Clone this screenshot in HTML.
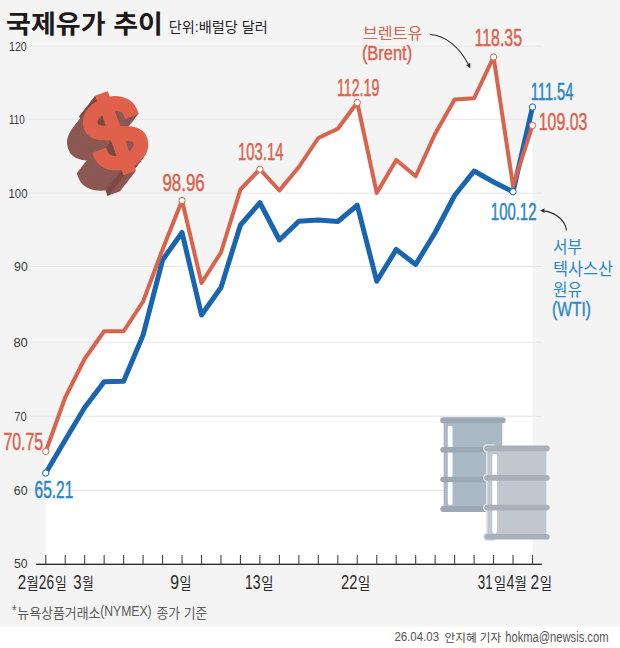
<!DOCTYPE html>
<html lang="ko"><head><meta charset="utf-8"><title>국제유가 추이</title>
<style>html,body{margin:0;padding:0;background:#fff}body{width:620px;height:648px;overflow:hidden;font-family:"Liberation Sans","Noto Sans CJK KR",sans-serif}svg{display:block}text{font-family:"Liberation Sans","Noto Sans CJK KR",sans-serif}</style></head><body>
<svg width="620" height="648" viewBox="0 0 620 648">
<rect x="0" y="0" width="620" height="626.3" fill="#f4f4f4"/>
<polygon fill="#fff" points="45.75,564.25 45.75,451.5 65.22,397.5 84.69,358.75 104.16,331.25 123.63,331.25 143.1,301.5 162.57,249.5 182.04,200.5 201.51,283 220.98,252.5 240.45,189.5 259.92,169.25 279.39,190.5 298.86,167 318.33,138 337.8,128.75 357.27,102.5 376.74,193 396.21,160 415.68,176.25 435.15,133.75 454.62,99.5 474.09,98.25 493.56,57 513.03,186 532.5,125.5 532.6,125.5 532.6,564.25"/>
<rect x="29" y="45.7" width="513" height="1" fill="#e7e7e7"/>
<rect x="29" y="118.8" width="513" height="1" fill="#e7e7e7"/>
<rect x="29" y="192.6" width="513" height="1" fill="#e7e7e7"/>
<rect x="29" y="266.0" width="513" height="1" fill="#e7e7e7"/>
<rect x="29" y="341.7" width="513" height="1" fill="#e7e7e7"/>
<rect x="29" y="415.8" width="513" height="1" fill="#e7e7e7"/>
<rect x="29" y="490.0" width="513" height="1" fill="#e7e7e7"/>
<text transform="translate(8.99,50.97) scale(0.8136,1)" font-size="13.14" font-weight="normal" fill="#3a3a3a">120</text>
<text transform="translate(9.05,124.07) scale(0.7499,1)" font-size="13.14" font-weight="normal" fill="#3a3a3a">110</text>
<text transform="translate(8.54,197.87) scale(0.8626,1)" font-size="13.14" font-weight="normal" fill="#3a3a3a">100</text>
<text transform="translate(14.02,271.27) scale(0.9420,1)" font-size="13.14" font-weight="normal" fill="#3a3a3a">90</text>
<text transform="translate(13.44,346.97) scale(0.9832,1)" font-size="13.14" font-weight="normal" fill="#3a3a3a">80</text>
<text transform="translate(14.32,421.07) scale(0.8567,1)" font-size="13.14" font-weight="normal" fill="#3a3a3a">70</text>
<text transform="translate(13.87,495.27) scale(0.9456,1)" font-size="13.14" font-weight="normal" fill="#3a3a3a">60</text>
<text transform="translate(14.01,567.97) scale(0.9358,1)" font-size="13.14" font-weight="normal" fill="#3a3a3a">50</text>
<g>
<rect x="443.6" y="420.5" width="58.69999999999999" height="88.10000000000002" fill="#a9b9c5"/><rect x="447.8" y="425.7" width="4.800000000000011" height="79.69999999999999" rx="2.4000000000000057" fill="#fff"/><rect x="440.3" y="417.3" width="65.29999999999998" height="5.699999999999989" rx="2.8499999999999943" fill="#9ca9b4"/><rect x="440.3" y="447" width="65.29999999999998" height="5.600000000000023" rx="2.8000000000000114" fill="#9ca9b4"/><rect x="440.3" y="476.7" width="65.29999999999998" height="5.600000000000023" rx="2.8000000000000114" fill="#9ca9b4"/><rect x="440.3" y="506" width="65.29999999999998" height="6" rx="3.0" fill="#9ca9b4"/>
<rect x="486.09999999999997" y="448.8" width="6" height="86.99999999999994" fill="#dfe3e7"/><rect x="483.0" y="444.20000000000005" width="14" height="8.399999999999967" rx="4.199999999999983" fill="#dfe3e7"/><rect x="483.0" y="473.6" width="14" height="8.49999999999999" rx="4.249999999999995" fill="#dfe3e7"/><rect x="483.0" y="503.40000000000003" width="14" height="8.399999999999967" rx="4.199999999999983" fill="#dfe3e7"/><rect x="483.0" y="532.6" width="14" height="8.400000000000023" rx="4.200000000000012" fill="#dfe3e7"/><rect x="487.7" y="448.8" width="58.69999999999999" height="86.99999999999994" fill="#c1c7cf"/><rect x="492.3" y="454" width="4.800000000000011" height="79.70000000000005" rx="2.4000000000000057" fill="#fff"/><rect x="484.4" y="445.6" width="65.29999999999998" height="5.599999999999966" rx="2.799999999999983" fill="#a9b0b9"/><rect x="484.4" y="475" width="65.29999999999998" height="5.699999999999989" rx="2.8499999999999943" fill="#a9b0b9"/><rect x="484.4" y="504.8" width="65.29999999999998" height="5.599999999999966" rx="2.799999999999983" fill="#a9b0b9"/><rect x="484.4" y="534" width="65.29999999999998" height="5.600000000000023" rx="2.8000000000000114" fill="#a9b0b9"/>
</g>
<polyline fill="none" stroke="#1a65b0" stroke-width="5" stroke-linejoin="round" stroke-linecap="round" points="45.75,473 65.22,440 84.69,407.5 104.16,381.75 123.63,381.25 143.1,335 162.57,260 182.04,232.5 201.51,315 220.98,287.5 240.45,225 259.92,202.75 279.39,240 298.86,221.25 318.33,220 337.8,221.5 357.27,205.25 376.74,281.25 396.21,249.5 415.68,264.5 435.15,232.5 454.62,195.5 474.09,171 493.56,182 513.03,191.75 532.5,107"/>
<polyline fill="none" stroke="#d9634d" stroke-width="4" stroke-linejoin="round" stroke-linecap="round" points="45.75,451.5 65.22,397.5 84.69,358.75 104.16,331.25 123.63,331.25 143.1,301.5 162.57,249.5 182.04,200.5 201.51,283 220.98,252.5 240.45,189.5 259.92,169.25 279.39,190.5 298.86,167 318.33,138 337.8,128.75 357.27,102.5 376.74,193 396.21,160 415.68,176.25 435.15,133.75 454.62,99.5 474.09,98.25 493.56,57 513.03,186 532.5,125.5"/>
<circle cx="45.75" cy="451.5" r="3.15" fill="#fff" stroke="#d9634d" stroke-width="1"/>
<circle cx="182.04" cy="200.5" r="3.15" fill="#fff" stroke="#d9634d" stroke-width="1"/>
<circle cx="259.92" cy="169.25" r="3.15" fill="#fff" stroke="#d9634d" stroke-width="1"/>
<circle cx="357.27" cy="102.5" r="3.15" fill="#fff" stroke="#d9634d" stroke-width="1"/>
<circle cx="493.56" cy="57" r="3.15" fill="#fff" stroke="#d9634d" stroke-width="1"/>
<circle cx="532.5" cy="125.5" r="3.15" fill="#fff" stroke="#d9634d" stroke-width="1"/>
<circle cx="45.75" cy="473" r="3.15" fill="#fff" stroke="#1a65b0" stroke-width="1"/>
<circle cx="513.03" cy="191.75" r="3.15" fill="#fff" stroke="#1a65b0" stroke-width="1"/>
<circle cx="532.5" cy="107" r="3.15" fill="#fff" stroke="#1a65b0" stroke-width="1"/>
<rect x="36.2" y="563.65" width="505.6" height="1.3" fill="#222"/>
<rect x="45.20" y="555" width="1.1" height="9.3" fill="#444"/>
<rect x="64.67" y="555" width="1.1" height="9.3" fill="#444"/>
<rect x="84.14" y="555" width="1.1" height="9.3" fill="#444"/>
<rect x="103.61" y="555" width="1.1" height="9.3" fill="#444"/>
<rect x="123.08" y="555" width="1.1" height="9.3" fill="#444"/>
<rect x="142.55" y="555" width="1.1" height="9.3" fill="#444"/>
<rect x="162.02" y="555" width="1.1" height="9.3" fill="#444"/>
<rect x="181.49" y="555" width="1.1" height="9.3" fill="#444"/>
<rect x="200.96" y="555" width="1.1" height="9.3" fill="#444"/>
<rect x="220.43" y="555" width="1.1" height="9.3" fill="#444"/>
<rect x="239.90" y="555" width="1.1" height="9.3" fill="#444"/>
<rect x="259.37" y="555" width="1.1" height="9.3" fill="#444"/>
<rect x="278.84" y="555" width="1.1" height="9.3" fill="#444"/>
<rect x="298.31" y="555" width="1.1" height="9.3" fill="#444"/>
<rect x="317.78" y="555" width="1.1" height="9.3" fill="#444"/>
<rect x="337.25" y="555" width="1.1" height="9.3" fill="#444"/>
<rect x="356.72" y="555" width="1.1" height="9.3" fill="#444"/>
<rect x="376.19" y="555" width="1.1" height="9.3" fill="#444"/>
<rect x="395.66" y="555" width="1.1" height="9.3" fill="#444"/>
<rect x="415.13" y="555" width="1.1" height="9.3" fill="#444"/>
<rect x="434.60" y="555" width="1.1" height="9.3" fill="#444"/>
<rect x="454.07" y="555" width="1.1" height="9.3" fill="#444"/>
<rect x="473.54" y="555" width="1.1" height="9.3" fill="#444"/>
<rect x="493.01" y="555" width="1.1" height="9.3" fill="#444"/>
<rect x="512.48" y="555" width="1.1" height="9.3" fill="#444"/>
<rect x="531.95" y="555" width="1.1" height="9.3" fill="#444"/>
<text transform="translate(3.38,449.77) scale(0.6638,1)" font-size="24.01" font-weight="normal" fill="#d9634d" stroke="#d9634d" stroke-width="0.5">70.75</text>
<text transform="translate(34.51,497.87) scale(0.6465,1)" font-size="24.01" font-weight="normal" fill="#2b86c5" stroke="#2b86c5" stroke-width="0.5">65.21</text>
<text transform="translate(162.41,191.47) scale(0.7046,1)" font-size="24.01" font-weight="normal" fill="#d9634d" stroke="#d9634d" stroke-width="0.5">98.96</text>
<text transform="translate(238.12,160.17) scale(0.6170,1)" font-size="24.01" font-weight="normal" fill="#d9634d" stroke="#d9634d" stroke-width="0.5">103.14</text>
<text transform="translate(336.92,95.77) scale(0.5931,1)" font-size="24.01" font-weight="normal" fill="#d9634d" stroke="#d9634d" stroke-width="0.5">112.19</text>
<text transform="translate(474.59,45.87) scale(0.6629,1)" font-size="24.01" font-weight="normal" fill="#d9634d" stroke="#d9634d" stroke-width="0.5">118.35</text>
<text transform="translate(530.78,99.56) scale(0.6018,1)" font-size="24.36" font-weight="normal" fill="#2b86c5" stroke="#2b86c5" stroke-width="0.5">111.54</text>
<text transform="translate(538.79,130.27) scale(0.6619,1)" font-size="24.01" font-weight="normal" fill="#d9634d" stroke="#d9634d" stroke-width="0.5">109.03</text>
<text transform="translate(490.86,219.77) scale(0.6214,1)" font-size="24.01" font-weight="normal" fill="#2b86c5" stroke="#2b86c5" stroke-width="0.5">100.12</text>
<text x="6" y="33" font-size="25.5" font-weight="bold" fill="#1d1a19" textLength="157" lengthAdjust="spacingAndGlyphs">국제유가 추이</text>
<text x="168.8" y="32.3" font-size="14" fill="#222" textLength="99" lengthAdjust="spacingAndGlyphs">단위:배럴당 달러</text>
<text x="362.8" y="38.8" font-size="15.5" fill="#d9634d" textLength="59.6" lengthAdjust="spacingAndGlyphs">브렌트유</text>
<text transform="translate(361.88,59.77) scale(0.8251,1)" font-size="19.96" font-weight="normal" fill="#d9634d" stroke="#d9634d" stroke-width="0.4">(Brent)</text>
<text x="553" y="253" font-size="16.5" fill="#2b86c5" textLength="29" lengthAdjust="spacingAndGlyphs">서부</text>
<text x="553" y="274.5" font-size="16.5" fill="#2b86c5" textLength="60" lengthAdjust="spacingAndGlyphs">텍사스산</text>
<text x="553" y="295.5" font-size="16.5" fill="#2b86c5" textLength="29" lengthAdjust="spacingAndGlyphs">원유</text>
<text transform="translate(552.03,316.06) scale(0.7601,1)" font-size="20.50" font-weight="normal" fill="#2b86c5" stroke="#2b86c5" stroke-width="0.4">(WTI)</text>
<path d="M430.2,34.5 C444,35.5 459,45 469.6,66.8" fill="none" stroke="#2a2a2a" stroke-width="1.1"/>
<path d="M470.3,68.3 L465.9,64.9 L468.3,64.4 L470.3,62.6 Z" fill="#2a2a2a"/>
<path d="M566.6,230.3 C565,221 557,212 541.6,210.6" fill="none" stroke="#2a2a2a" stroke-width="1.1"/>
<path d="M540.2,210.5 L544.8,208.3 L544,210.7 L544.7,213.1 Z" fill="#2a2a2a"/>
<text transform="translate(17.64,589.30) scale(0.7608,1)" font-size="19.91" font-weight="normal" fill="#2a2a2a">2</text><text x="26.3" y="588.6" font-size="15.5" fill="#2a2a2a" textLength="12.5" lengthAdjust="spacingAndGlyphs">월</text><text transform="translate(38.81,589.11) scale(0.6954,1)" font-size="19.63" font-weight="normal" fill="#2a2a2a">26</text><text x="54.9" y="588.6" font-size="15.5" fill="#2a2a2a" textLength="11.8" lengthAdjust="spacingAndGlyphs">일</text><text transform="translate(73.23,589.11) scale(0.7628,1)" font-size="19.63" font-weight="normal" fill="#2a2a2a">3</text><text x="82" y="588.6" font-size="15.5" fill="#2a2a2a" textLength="11.8" lengthAdjust="spacingAndGlyphs">월</text>
<text transform="translate(170.26,589.11) scale(0.8050,1)" font-size="19.63" font-weight="normal" fill="#2a2a2a">9</text><text x="179.5" y="588.6" font-size="15.5" fill="#2a2a2a" textLength="11.9" lengthAdjust="spacingAndGlyphs">일</text>
<text transform="translate(245.03,589.11) scale(0.7136,1)" font-size="19.63" font-weight="normal" fill="#2a2a2a">13</text><text x="261.3" y="588.6" font-size="15.5" fill="#2a2a2a" textLength="12.2" lengthAdjust="spacingAndGlyphs">일</text>
<text transform="translate(340.96,589.30) scale(0.7398,1)" font-size="19.91" font-weight="normal" fill="#2a2a2a">22</text><text x="358" y="588.6" font-size="15.5" fill="#2a2a2a" textLength="12.2" lengthAdjust="spacingAndGlyphs">일</text>
<text transform="translate(477.79,589.11) scale(0.6805,1)" font-size="19.63" font-weight="normal" fill="#2a2a2a">31</text><text x="493.9" y="588.6" font-size="15.5" fill="#2a2a2a" textLength="12.1" lengthAdjust="spacingAndGlyphs">일</text><text transform="translate(506.47,589.30) scale(0.7072,1)" font-size="20.20" font-weight="normal" fill="#2a2a2a">4</text><text x="514.6" y="588.6" font-size="15.5" fill="#2a2a2a" textLength="12.4" lengthAdjust="spacingAndGlyphs">월</text><text transform="translate(530.42,589.30) scale(0.7829,1)" font-size="19.91" font-weight="normal" fill="#2a2a2a">2</text><text x="539.7" y="588.6" font-size="15.5" fill="#2a2a2a" textLength="12.3" lengthAdjust="spacingAndGlyphs">일</text>
<text transform="translate(12.01,614.80) scale(0.8251,1)" font-size="14.24" font-weight="normal" fill="#5c5c5c">*</text>
<text x="17.3" y="617.6" font-size="13.5" fill="#5c5c5c" textLength="83.1" lengthAdjust="spacingAndGlyphs">뉴욕상품거래소</text>
<text transform="translate(100.24,615.70) scale(0.8420,1)" font-size="14.49" font-weight="normal" fill="#5c5c5c">(NYMEX)</text>
<text x="156.5" y="617.6" font-size="13.5" fill="#5c5c5c" textLength="50.8" lengthAdjust="spacingAndGlyphs">종가 기준</text>
<text transform="translate(394.42,641.47) scale(0.8739,1)" font-size="13.14" font-weight="normal" fill="#555">26.04.03</text>
<text x="444.6" y="642" font-size="11.8" fill="#4a4a4a" textLength="56.6" lengthAdjust="spacingAndGlyphs">안지혜 기자</text>
<text transform="translate(505.22,642.03) scale(0.7850,1)" font-size="14.26" font-weight="normal" fill="#555">hokma@newsis.com</text>
<g role="img" aria-label="$"><defs><g id="dsf" transform="rotate(-19.6)"><path d="M21.0,-10.5 L21.0,-15.0 C21.0,-23.28 11.60,-30.0 0,-30.0 C-11.60,-30.0 -21.0,-23.28 -21.0,-15.0 C-21.0,-6.72 -11.76,-4.20 0,0 C11.76,4.20 21.0,6.72 21.0,15.0 C21.0,23.28 11.60,30.0 0,30.0 C-11.60,30.0 -21.0,23.28 -21.0,15.0 L-21.0,10.5" fill="none" stroke-width="14.6"/><rect x="-6.75" y="-42.25" width="13.5" height="84.5" stroke="none"/></g><g id="dss" transform="rotate(-19.6)"><rect x="-6.75" y="-42.25" width="13.5" height="84.5" stroke="none"/><rect x="-6.75" y="-42.25" width="1.6" height="84.5" fill="#794642" stroke="none"/><path d="M21.0,-10.5 L21.0,-15.0 C21.0,-23.28 11.60,-30.0 0,-30.0 C-11.60,-30.0 -21.0,-23.28 -21.0,-15.0 C-21.0,-6.72 -11.76,-4.20 0,0 C11.76,4.20 21.0,6.72 21.0,15.0 C21.0,23.28 11.60,30.0 0,30.0 C-11.60,30.0 -21.0,23.28 -21.0,15.0 L-21.0,10.5" fill="none" stroke-width="14.6"/></g></defs><g fill="#8c5853" stroke="#8c5853"><use href="#dss" x="99.80" y="153.60"/><use href="#dss" x="100.36" y="152.88"/><use href="#dss" x="100.93" y="152.15"/><use href="#dss" x="101.49" y="151.43"/><use href="#dss" x="102.06" y="150.70"/><use href="#dss" x="102.62" y="149.98"/><use href="#dss" x="103.19" y="149.25"/><use href="#dss" x="103.75" y="148.53"/><use href="#dss" x="104.31" y="147.80"/><use href="#dss" x="104.88" y="147.08"/><use href="#dss" x="105.44" y="146.35"/><use href="#dss" x="106.01" y="145.62"/><use href="#dss" x="106.57" y="144.90"/><use href="#dss" x="107.14" y="144.18"/><use href="#dss" x="107.70" y="143.45"/><use href="#dss" x="108.26" y="142.73"/><use href="#dss" x="108.83" y="142.00"/><use href="#dss" x="109.39" y="141.28"/><use href="#dss" x="109.96" y="140.55"/><use href="#dss" x="110.52" y="139.83"/><use href="#dss" x="111.09" y="139.10"/><use href="#dss" x="111.65" y="138.38"/><use href="#dss" x="112.21" y="137.65"/><use href="#dss" x="112.78" y="136.93"/><use href="#dss" x="113.34" y="136.20"/><use href="#dss" x="113.91" y="135.48"/><use href="#dss" x="114.47" y="134.75"/><use href="#dss" x="115.04" y="134.03"/></g><use href="#dsf" x="115.6" y="133.3" fill="#e0614b" stroke="#e0614b"/></g>
</svg></body></html>
